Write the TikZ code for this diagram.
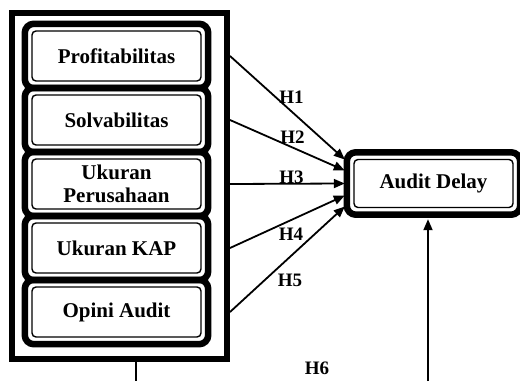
\documentclass[tikz,border=0pt]{standalone}
\usepackage{fontspec}
\setmainfont{Liberation Serif}
\usetikzlibrary{positioning, calc, arrows.meta}

\begin{document}
\begin{tikzpicture}[
  x=1pt, y=1pt,
  >={Triangle[length=11pt, width=9pt]}, line width=1.8pt,
  var/.style   = {draw, line width=1.4pt, rounded corners=4pt, minimum width=169pt,
                  minimum height=50pt, inner sep=1pt, align=center,
                  font=\fontsize{21}{23.5}\selectfont\bfseries},
  band/.style  = {draw, line width=6.5pt, rounded corners=9pt},
  frame/.style = {draw, line width=6pt, minimum width=215pt, minimum height=346pt},
  hyp/.style   = {anchor=base, inner sep=0pt, font=\fontsize{19}{22}\selectfont\bfseries},
]
  \useasboundingbox (0,0) rectangle (520,381);

  \node[frame] (frame) at (119.5,195) {};

  \node[var]                      (prof)  at (116.5,325) {Profitabilitas};
  \node[var, below=12.6pt of prof] (solv)  {Solvabilitas};
  \node[var, below=12.6pt of solv] (ukp)   {Ukuran\\Perusahaan};
  \node[var, below=12.6pt of ukp]  (kap)   {Ukuran KAP};
  \node[var, below=12.6pt of kap]  (opini) {Opini Audit};

  \node[var, minimum width=159pt, minimum height=48pt] (delay) at (433.5,197.5) {Audit Delay};

  % thick outer ring of each variable
  \foreach \n in {prof, solv, ukp, kap, opini, delay}
    \draw[band] ([shift={(-6.5pt,-6.5pt)}]\n.south west) rectangle ([shift={(6.5pt,6.5pt)}]\n.north east);

  \foreach \b/\dy in {prof/24, solv/13, ukp/0, kap/-12, opini/-23}
    \draw[->] (frame.east |- \b.east) -- ([xshift=-8.5pt, yshift=\dy pt]delay.west);

  \node[hyp] (h1) at (291.5,277)   {H1};
  \node[hyp] (h2) at (292.5,237.7) {H2};
  \node[hyp] (h3) at (291.5,197.5) {H3};
  \node[hyp] (h4) at (291,140.3)   {H4};
  \node[hyp] (h5) at (290,94.3)    {H5};
  \node[hyp] (h6) at (317,6.7)     {H6};

  \coordinate (lo) at (136,0);
  \coordinate (ro) at (428,0);
  \draw (frame.south -| lo) -- (lo);
  \draw[->] (ro) -- ($(delay.south -| ro)+(0,-11pt)$);
\end{tikzpicture}
\end{document}
